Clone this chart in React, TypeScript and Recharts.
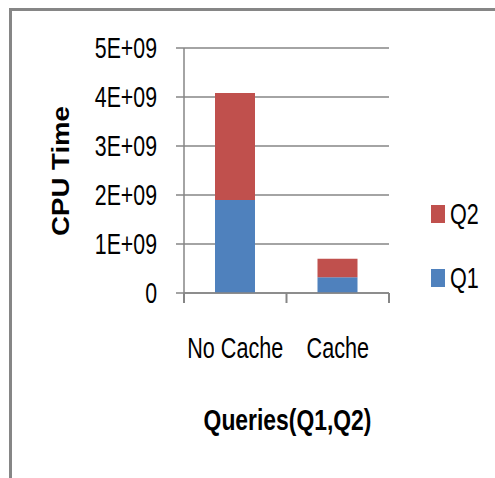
import React from "react";
import { BarChart, Bar, XAxis, YAxis, CartesianGrid } from "recharts";

const categories = ["No Cache", "Cache"];
const q1 = [1.9e9, 0.32e9];
const q2 = [2.18e9, 0.38e9];
const yTicks = [0, 1e9, 2e9, 3e9, 4e9, 5e9];
const yTickLabels = ["0", "1E+09", "2E+09", "3E+09", "4E+09", "5E+09"];
const seriesNames = ["Q1", "Q2"];
const seriesColors = ["#4f81bd", "#c0504d"];

const sans = "'Liberation Sans', Arial, sans-serif";
const grey = "#868686";

const data = categories.map((c, i) => ({ name: c, Q1: q1[i], Q2: q2[i] }));

// squeezed, stretched text, like the narrow font of the original
function YTick(props: any) {
  const { x, y, payload } = props;
  const label = yTickLabels[yTicks.indexOf(payload.value)] ?? String(payload.value);
  return (
    <text transform={`translate(${x},${y + 10}) scale(0.82,1.12)`} textAnchor="end" fontFamily={sans} fontSize={26} fill="#000">
      {label}
    </text>
  );
}

// category label plus tick marks on the category edges (Excel style)
function XTick(props: any) {
  const { x, y, payload, index, visibleTicksCount, width } = props;
  const half = payload.offset || width / visibleTicksCount / 2;
  return (
    <g>
      <line x1={x - half} x2={x - half} y1={y} y2={y + 10} stroke={grey} strokeWidth={2} />
      {index === visibleTicksCount - 1 && (
        <line x1={x + half} x2={x + half} y1={y} y2={y + 10} stroke={grey} strokeWidth={2} />
      )}
      <text transform={`translate(${x},${y + 65}) scale(0.83,1.1)`} textAnchor="middle" fontFamily={sans} fontSize={26} fill="#000">
        {payload.value}
      </text>
    </g>
  );
}

function XTitle(props: any) {
  const { viewBox } = props;
  const cx = viewBox.x + viewBox.width / 2 + 1;
  return (
    <text transform={`translate(${cx},${viewBox.y + 137}) scale(0.88,1.15)`} textAnchor="middle" fontFamily={sans} fontWeight="bold" fontSize={26} fill="#000">
      Queries(Q1,Q2)
    </text>
  );
}

function LegendBox() {
  const items = seriesNames.map((n, i) => ({ n, c: seriesColors[i] })).reverse();
  return (
    <div style={{ position: "absolute", left: 431, top: 182, fontFamily: sans, fontSize: 26, color: "#000" }}>
      {items.map((it) => (
        <div key={it.n} style={{ display: "flex", alignItems: "center", height: 64 }}>
          <span style={{ width: 14, height: 18, background: it.c, display: "inline-block", marginRight: 5 }} />
          <span style={{ display: "inline-block", transform: "scale(0.83,1.12)", transformOrigin: "left center" }}>{it.n}</span>
        </div>
      ))}
    </div>
  );
}

export default function App() {
  return (
    <div style={{ position: "absolute", left: 0, top: 0, width: 495, height: 478, background: "#fff" }}>
      <div
        style={{
          position: "absolute",
          left: 9,
          top: 8,
          width: 486,
          height: 470,
          borderLeft: `3px solid ${grey}`,
          borderTop: `3px solid ${grey}`,
        }}
      />
      <BarChart
        width={495}
        height={478}
        data={data}
        margin={{ top: 48, right: 106, bottom: 0, left: 0 }}
        style={{ position: "absolute", left: 0, top: 0 }}
      >
        <CartesianGrid vertical={false} stroke={grey} strokeWidth={1.5} />
        <XAxis
          dataKey="name"
          height={185}
          axisLine={{ stroke: grey, strokeWidth: 1.5 }}
          tickLine={false}
          tickSize={0}
          tickMargin={0}
          interval={0}
          tick={<XTick />}
          label={<XTitle />}
        />
        <YAxis
          width={184}
          domain={[0, 5e9]}
          ticks={yTicks}
          interval={0}
          tickSize={8}
          tickMargin={19}
          axisLine={{ stroke: grey, strokeWidth: 1.5 }}
          tickLine={{ stroke: grey, strokeWidth: 1.5 }}
          tick={<YTick />}
        />
        {seriesNames.map((n, i) => (
          <Bar
            key={n}
            dataKey={n}
            stackId="a"
            fill={seriesColors[i]}
            barSize={40}
            isAnimationActive={false}
          />
        ))}
      </BarChart>
      <svg width={100} height={478} style={{ position: "absolute", left: 0, top: 0 }}>
        <text
          transform="translate(61,171) rotate(-90) scale(1.15,1)"
          textAnchor="middle"
          dominantBaseline="central"
          fontFamily={sans}
          fontWeight="bold"
          fontSize={24}
          fill="#000"
        >
          CPU Time
        </text>
      </svg>
      <LegendBox />
    </div>
  );
}
